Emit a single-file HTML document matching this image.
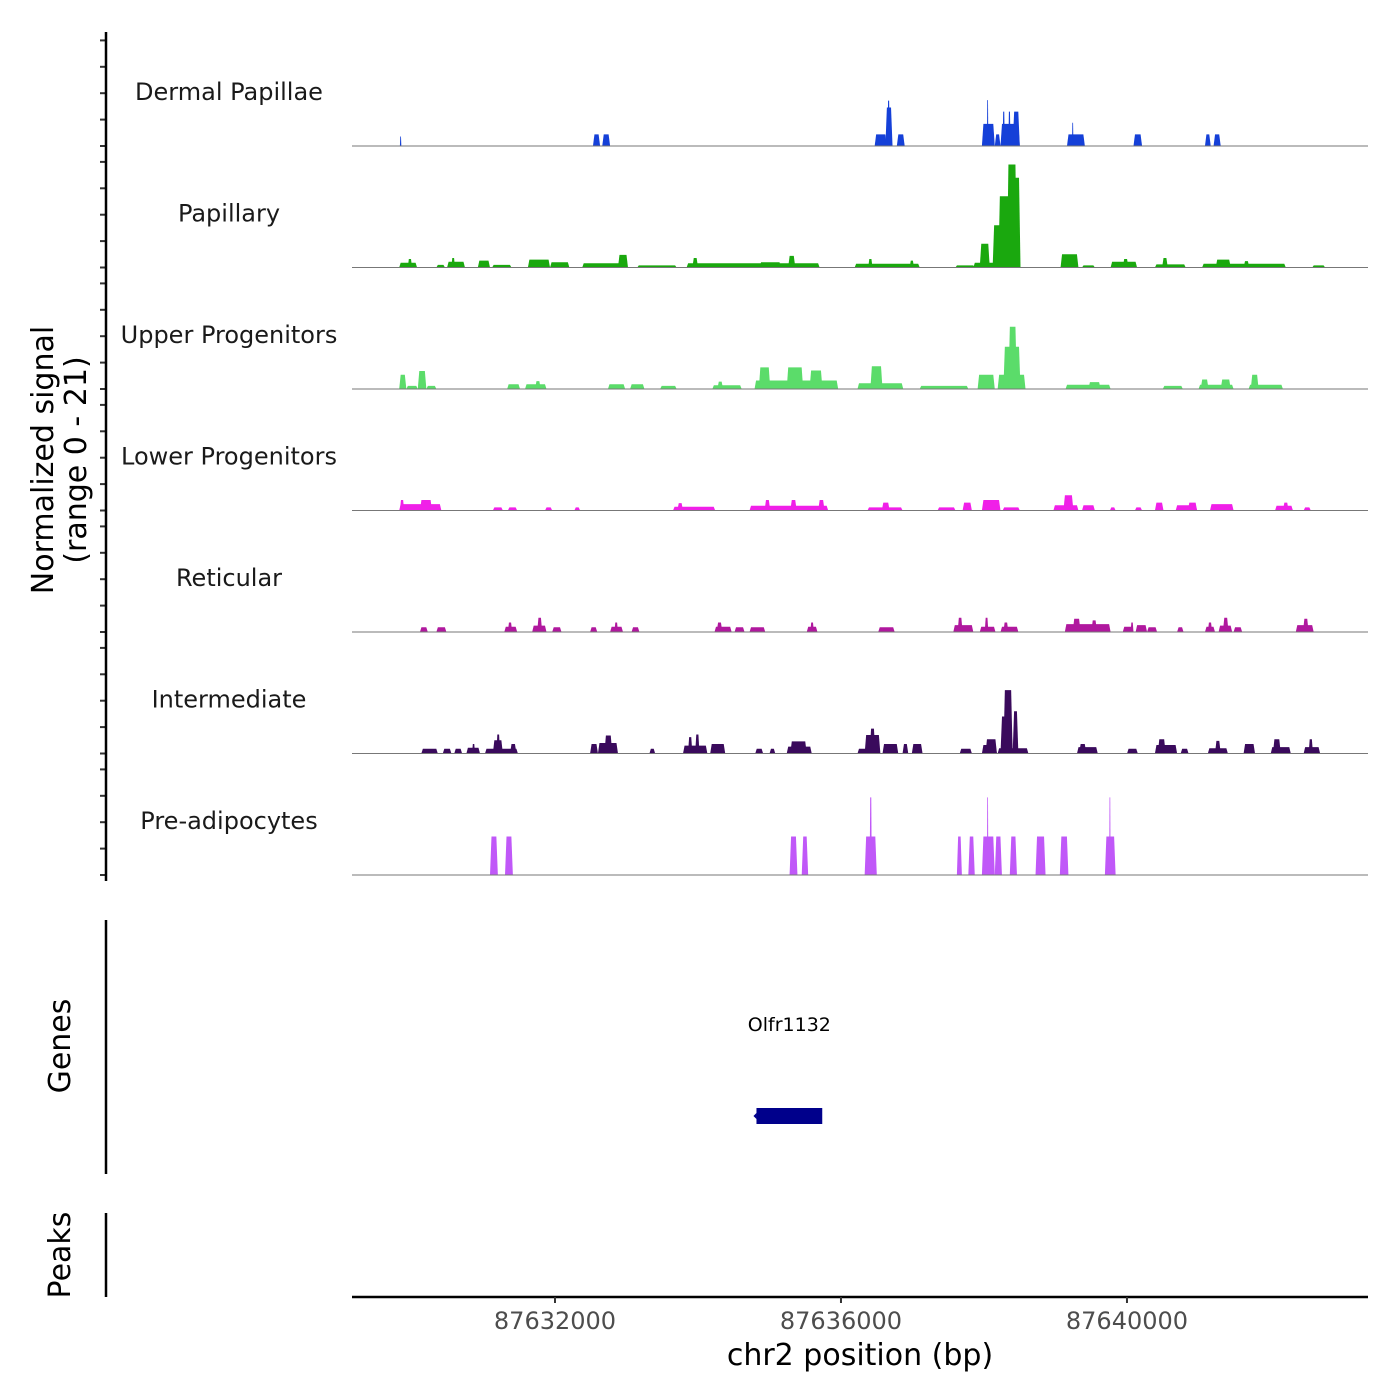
<!DOCTYPE html>
<html><head><meta charset="utf-8"><style>
html,body{margin:0;padding:0;background:#fff;}
svg{display:block;font-family:"DejaVu Sans","Liberation Sans",sans-serif;}
</style></head><body>
<svg id="chart" width="1400" height="1400" viewBox="0 0 1400 1400" xmlns="http://www.w3.org/2000/svg">
<rect width="1400" height="1400" fill="#fff"/>
<g id="tracks"></g>
<g id="axes"></g>
</svg>
<script>
// region start (kb) ; peak positions are kb offsets from regionStartKb: [start, end, value]
const regionStartKb = 87629.161;
const trackNames = ["Dermal Papillae","Papillary","Upper Progenitors","Lower Progenitors","Reticular","Intermediate","Pre-adipocytes"];
const trackColors = ["#1540d8","#1aa80e","#5bdc6a","#f020e8","#b0189e","#3a0a5c","#c058f8"];
const dermalPeaks = [[0.67,0.69,1.8],[3.37,3.47,2.2],[3.50,3.61,2.2],[7.31,7.48,2.2],[7.46,7.56,7.3],[7.49,7.52,8.6],[7.62,7.73,2.2],[8.81,8.99,4.2],[8.99,9.07,2.2],[9.07,9.34,4.2],[8.88,8.90,8.7],[9.10,9.13,6.5],[9.18,9.21,6.5],[9.24,9.34,6.5],[10.0,10.25,2.2],[10.07,10.09,4.4],[10.93,11.05,2.2],[11.93,12.01,2.2],[12.05,12.15,2.2]];
const papillaryPeaks = [[0.66,0.91,0.9],[0.78,0.84,1.6],[1.18,1.30,0.5],[1.33,1.58,1.1],[1.39,1.44,1.8],[1.76,1.93,1.3],[1.96,2.23,0.5],[2.46,2.77,1.5],[2.77,3.04,1.0],[3.22,3.75,0.8],[3.72,3.86,2.4],[3.99,4.54,0.4],[4.68,6.54,0.8],[4.76,4.84,1.8],[5.7,6.0,1.0],[6.10,6.20,2.2],[7.03,7.94,0.7],[7.22,7.28,1.6],[7.80,7.86,1.3],[8.44,8.71,0.4],[8.69,9.35,0.9],[8.78,8.92,4.5],[8.96,9.11,8],[9.04,9.25,13.5],[9.16,9.30,19.5],[9.24,9.35,17],[9.91,10.16,2.5],[10.21,10.39,0.4],[10.61,10.98,1.1],[10.78,10.86,1.6],[11.23,11.66,0.6],[11.33,11.41,1.8],[11.89,13.06,0.7],[12.08,12.29,1.5],[12.47,12.55,1.2],[13.43,13.61,0.4]];
const upperPeaks = [[0.66,0.76,2.7],[0.76,0.92,0.6],[0.92,1.04,3.4],[1.04,1.18,0.6],[2.17,2.35,0.9],[2.42,2.72,0.9],[2.56,2.64,1.5],[3.58,3.82,0.9],[3.89,4.09,0.9],[4.31,4.54,0.6],[5.04,5.45,0.7],[5.11,5.19,1.4],[5.63,6.80,1.6],[5.69,5.85,4.1],[6.08,6.31,4.1],[6.40,6.58,3.5],[7.07,7.71,1.1],[7.25,7.42,4.3],[7.94,8.62,0.6],[8.75,8.99,2.7],[9.03,9.42,2.7],[9.11,9.35,8],[9.18,9.30,11.8],[9.98,10.61,0.8],[10.30,10.47,1.3],[11.34,11.62,0.6],[11.84,12.33,0.8],[11.87,11.98,1.8],[12.15,12.29,1.8],[12.54,13.02,0.8],[12.57,12.68,2.7]];
const lowerPeaks = [[0.66,1.25,1.2],[0.67,0.73,2.0],[0.95,1.12,2.0],[1.97,2.11,0.6],[2.18,2.31,0.6],[2.70,2.80,0.6],[3.11,3.19,0.6],[4.49,5.08,0.7],[4.55,4.63,1.4],[5.56,6.66,0.9],[5.77,5.85,2.0],[6.13,6.22,2.0],[6.52,6.61,2.0],[7.21,7.70,0.6],[7.41,7.52,1.5],[8.19,8.44,0.6],[8.54,8.67,1.5],[8.81,9.07,2.0],[9.10,9.34,0.6],[9.81,10.16,1.0],[9.95,10.09,2.9],[10.21,10.39,1.0],[10.60,10.68,0.6],[10.95,11.05,0.6],[11.23,11.35,1.5],[11.52,11.82,1.0],[11.69,11.82,1.5],[12.00,12.33,1.2],[12.91,13.16,0.9],[13.02,13.10,1.5],[13.31,13.41,0.6]];
const reticularPeaks = [[0.95,1.06,0.9],[1.18,1.32,0.9],[2.13,2.31,1.0],[2.18,2.24,1.8],[2.52,2.72,1.2],[2.59,2.66,2.7],[2.80,2.93,0.9],[3.33,3.43,0.9],[3.61,3.79,1.0],[3.67,3.72,1.8],[3.91,4.02,0.9],[5.07,5.31,1.0],[5.10,5.18,1.8],[5.35,5.49,0.9],[5.56,5.78,0.9],[6.36,6.51,1.0],[6.41,6.46,1.8],[7.36,7.59,0.9],[8.41,8.69,1.3],[8.47,8.54,2.7],[8.78,9.00,1.0],[8.85,8.90,2.7],[9.07,9.32,1.0],[9.11,9.18,1.8],[9.97,10.61,1.5],[10.08,10.19,2.5],[10.34,10.42,2.2],[10.78,10.93,1.0],[10.89,10.93,1.8],[10.96,11.12,1.3],[11.12,11.26,0.9],[11.54,11.63,0.9],[11.93,12.07,1.0],[11.97,12.03,1.8],[12.12,12.31,1.2],[12.18,12.26,2.7],[12.33,12.45,0.9],[13.20,13.45,1.3],[13.30,13.38,2.5]];
const intermediatePeaks = [[0.97,1.20,0.9],[1.27,1.39,0.9],[1.43,1.54,0.9],[1.60,1.79,1.1],[1.68,1.72,1.8],[1.86,2.32,0.9],[1.97,2.11,2.5],[2.02,2.07,3.6],[2.21,2.30,1.8],[3.33,3.44,1.8],[3.44,3.72,2.0],[3.53,3.64,3.4],[4.16,4.24,0.9],[4.63,4.97,1.5],[4.70,4.76,3.1],[4.80,4.86,3.6],[5.01,5.22,1.8],[5.64,5.75,0.9],[5.84,5.92,0.9],[6.08,6.43,1.3],[6.13,6.36,2.3],[7.07,7.22,0.9],[7.17,7.39,3.5],[7.24,7.32,4.7],[7.42,7.64,1.8],[7.70,7.78,1.8],[7.83,7.98,1.8],[8.50,8.67,0.9],[8.81,9.02,1.6],[8.86,9.02,2.7],[9.03,9.46,1.0],[9.07,9.24,7],[9.11,9.24,12],[9.24,9.32,8],[10.14,10.43,1.2],[10.17,10.27,1.8],[10.84,10.99,0.9],[11.23,11.54,1.6],[11.27,11.38,2.7],[11.59,11.70,0.9],[11.97,12.25,1.0],[12.07,12.15,2.4],[12.47,12.63,1.8],[12.85,13.13,1.2],[12.88,12.99,2.7],[13.31,13.54,1.2],[13.38,13.44,2.7]];
const preadipocytePeaks = [[1.93,2.04,7.3],[2.14,2.25,7.3],[6.12,6.23,7.3],[6.29,6.38,7.3],[7.17,7.34,7.3],[7.24,7.27,14.7],[8.46,8.53,7.3],[8.62,8.71,7.3],[8.81,8.99,7.3],[8.88,8.90,14.7],[8.99,9.09,7.3],[9.20,9.30,7.3],[9.56,9.70,7.3],[9.90,10.02,7.3],[10.53,10.68,7.3],[10.59,10.61,14.7]];
const xTickValues = [87632000, 87636000, 87640000];
const xTickLabels = ["87632000","87636000","87640000"];
const yTickValues = [0,5,10,15,20];
const geneName = "Olfr1132";
const geneStartBp = 87634818, geneEndBp = 87635738;

const allPeaks = [dermalPeaks,papillaryPeaks,upperPeaks,lowerPeaks,reticularPeaks,intermediatePeaks,preadipocytePeaks];
const NS = "http://www.w3.org/2000/svg";
const X0 = 352, X1 = 1368, kbSpan = 14.21;
function xOff(off){ return X0 + off/kbSpan*(X1-X0); }
function xBp(bp){ return xOff(bp/1000 - regionStartKb); }
function baseY(i){ return 146 + 121.5*i; }
function yVal(i,v){ return baseY(i) - v*5.28; }
function mk(tag, attrs, parent){ const e=document.createElementNS(NS,tag); for(const k in attrs) e.setAttribute(k,attrs[k]); parent.appendChild(e); return e; }

const tracks = document.getElementById('tracks');
const axes = document.getElementById('axes');

allPeaks.forEach((peaks, i) => {
  const g = mk('g', {}, tracks);
  
  
  const lbl = mk('text', {x:229, y:baseY(i)-46, 'text-anchor':'middle', 'font-size':24, fill:'#1a1a1a'}, g);
  lbl.textContent = trackNames[i];
  
  
  peaks.forEach(p => {
    const xa = xOff(p[0]), xb = xOff(p[1]);
    const w = xb - xa; const t = Math.min(1.5, w/4);
    const yb = baseY(i), yt = yVal(i,p[2]);
    const poly = mk('polygon', {points: `${xa},${yb} ${xa+t},${yt} ${xb-t},${yt} ${xb},${yb}`, fill: trackColors[i]}, g);
    
    
  });
  const bl = mk('line', {x1:X0, x2:X1, y1:baseY(i), y2:baseY(i), stroke:'#777', 'stroke-width':1}, g);
  
  
  yTickValues.forEach(v => {
    const tk = mk('line', {x1:100, x2:106, y1:yVal(i,v), y2:yVal(i,v), stroke:'#333', 'stroke-width':2}, axes);
    
    
  });
});

const ya = mk('line', {x1:106, x2:106, y1:32, y2:881, stroke:'#000', 'stroke-width':2.5}, axes);


const yt1 = mk('text', {x:0, y:0, 'text-anchor':'middle', 'font-size':30, fill:'#000', transform:'translate(53,460) rotate(-90)'}, axes);
yt1.textContent = 'Normalized signal';


const yt2 = mk('text', {x:0, y:0, 'text-anchor':'middle', 'font-size':30, fill:'#000', transform:'translate(86,460) rotate(-90)'}, axes);
yt2.textContent = '(range 0 - 21)';



const ga = mk('line', {x1:106, x2:106, y1:920, y2:1174, stroke:'#000', 'stroke-width':2.5}, axes);


const gt = mk('text', {x:0, y:0, 'text-anchor':'middle', 'font-size':30, fill:'#000', transform:'translate(70,1046) rotate(-90)'}, axes);
gt.textContent = 'Genes';


const gx1 = xBp(geneStartBp), gx2 = xBp(geneEndBp);
const gr = mk('rect', {x:gx1, y:1108, width:gx2-gx1, height:16, fill:'#00008b'}, axes);


const ar = mk('polygon', {points:`${gx1-3},1116 ${gx1},1113 ${gx1},1119`, fill:'#00008b'}, axes);


const gl = mk('text', {x:(gx1+gx2)/2, y:1031, 'text-anchor':'middle', 'font-size':19, fill:'#000'}, axes);
gl.textContent = geneName;



const pa = mk('line', {x1:106, x2:106, y1:1213, y2:1297, stroke:'#000', 'stroke-width':2.5}, axes);


const pt = mk('text', {x:0, y:0, 'text-anchor':'middle', 'font-size':30, fill:'#000', transform:'translate(70,1255) rotate(-90)'}, axes);
pt.textContent = 'Peaks';



const xa = mk('line', {x1:X0, x2:X1, y1:1297, y2:1297, stroke:'#000', 'stroke-width':2.5}, axes);


xTickValues.forEach((v, k) => {
  const x = xBp(v);
  const tk = mk('line', {x1:x, x2:x, y1:1297, y2:1303, stroke:'#333', 'stroke-width':2}, axes);
  
  
  const tl = mk('text', {x:x, y:1329, 'text-anchor':'middle', 'font-size':24, fill:'#4d4d4d'}, axes);
  tl.textContent = xTickLabels[k];
  
  
});
const xt = mk('text', {x:860, y:1365, 'text-anchor':'middle', 'font-size':30, fill:'#000'}, axes);
xt.textContent = 'chr2 position (bp)';


</script>
</body></html>
